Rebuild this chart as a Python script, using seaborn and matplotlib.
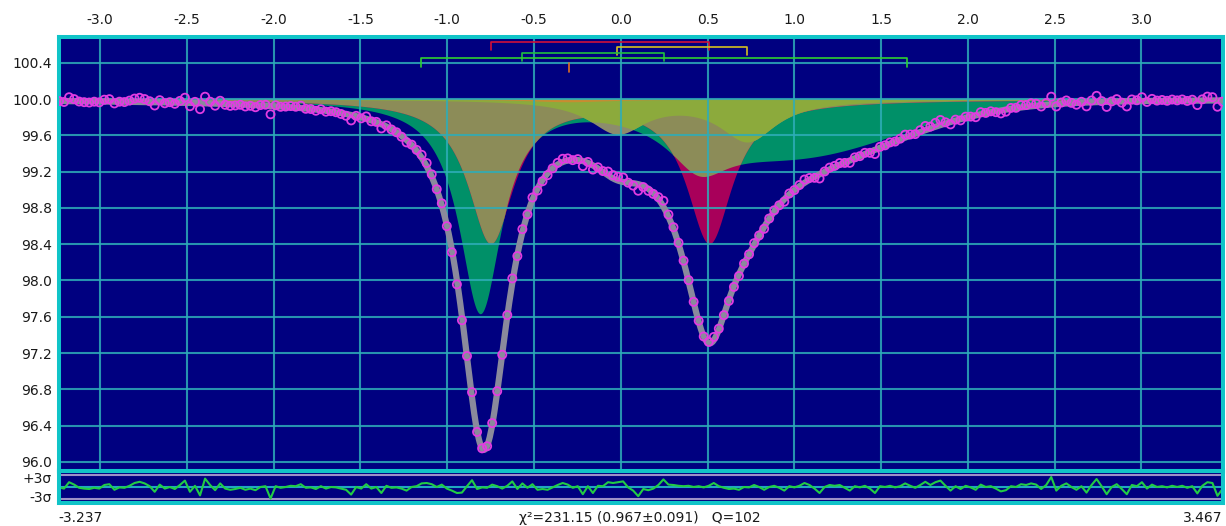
import numpy as np
import pandas as pd
import matplotlib
matplotlib.use('Agg')
import matplotlib.pyplot as plt
import seaborn as sns

sns.set_theme(style='white')
plt.rcParams['font.family'] = ['DejaVu Sans']
plt.rcParams['axes.unicode_minus'] = False

# velocity window of the spectrum (mm/s) and number of channels
V_MIN, V_MAX = -3.237, 3.467
N_CH = 232
SIGMA = 0.033         # statistical error of one channel (%)

# --- subspectra: line position, depth (%), half width ---
red_pos, red_depth, red_hw = [-0.75, 0.51], [1.57, 1.57], [0.16, 0.16]
yellow_pos, yellow_depth, yellow_hw = [-0.02, 0.73], [0.36, 0.45], [0.20, 0.20]
green_pos, green_depth, green_hw = [-0.81, 0.45], [2.35, 0.42], [0.15, 0.20]
green_wing = [1.00, 0.60, 0.60]   # broad tail of the green site: centre, depth, sigma
orange_pos, orange_depth, orange_hw = [-0.30], [0.03], [0.30]

# markers drawn above the spectrum (doublet brackets + singlet tick)
bracket_left = [-0.75, -0.02, -0.57, -1.15]
bracket_right = [0.51, 0.73, 0.25, 1.65]
bracket_height = [100.628, 100.570, 100.510, 100.448]
bracket_colors = ['#d0103a', '#d4c020', '#20c040', '#30d030']
singlet_pos = [-0.30]

# residuals (data - fit) in units of sigma, one per channel
residuals = [
    0.0, -0.3, 1.3, 0.7, -0.1, -0.3, -0.4, -0.1, -0.3, 0.6,
    0.8, -0.6, 0.0, -0.1, 0.4, 1.1, 1.4, 1.0, 0.3, -1.1,
    0.7, -0.3, 0.1, -0.4, 0.6, 1.7, -1.1, 0.4, -2.0, 2.2,
    0.6, -0.7, 1.0, -0.3, -0.6, -0.4, -0.1, -0.6, -0.3, -0.7,
    0.1, 0.3, -2.8, 0.3, -0.1, 0.1, 0.4, 0.3, 0.8, -0.1,
    0.0, -0.4, 0.3, -0.3, 0.1, 0.0, -0.3, -0.6, -1.8, 0.1,
    -0.3, 0.8, -0.3, 0.1, -1.4, 0.4, -0.1, 0.0, -0.3, -0.8,
    0.1, 0.3, 1.0, 1.1, 0.8, 0.1, 0.7, -0.3, -0.8, -1.4,
    -1.3, 0.3, 1.8, -0.4, 0.0, -0.1, 0.7, 0.3, -0.3, 0.4,
    1.5, -0.4, 1.0, -0.1, 0.8, -0.6, -0.4, -0.6, 0.0, 0.6,
    1.1, 0.7, -0.1, 0.3, -1.7, 0.3, -1.4, 0.4, 0.3, 1.3,
    1.1, 1.3, 1.5, 0.0, -0.8, -2.2, -0.4, -0.7, -0.3, 0.6,
    2.0, 0.7, 0.6, 0.4, 0.3, 0.4, 0.1, 0.3, 0.0, 0.4,
    1.1, 0.3, -0.1, -0.4, -0.3, -0.6, 0.1, 0.0, 0.6, 0.1,
    -0.6, 0.1, 0.4, -0.1, -0.8, 0.3, 0.0, 0.4, 1.1, 0.6,
    -0.3, -1.4, 0.1, 0.6, 0.4, 0.6, -0.1, -0.8, 0.3, 0.0,
    0.4, -0.3, -1.4, 0.3, 0.1, 0.4, 0.0, 0.3, 1.0, 0.4,
    -0.1, 0.6, 1.4, 0.6, 1.3, 1.7, 0.4, -0.8, 0.3, -0.4,
    0.4, 0.0, -0.6, 0.7, 0.1, 0.3, -0.3, -1.0, -0.7, 0.3,
    0.1, 0.8, 0.6, 1.0, 0.7, -0.4, 0.6, 2.6, -0.8, 0.4,
    1.0, 0.1, -0.6, 0.3, -1.3, 0.6, 2.1, 0.3, -1.7, 0.1,
    0.8, -0.4, -1.7, 0.6, 0.3, 1.3, -0.3, 0.7, 0.1, 0.3,
    0.0, 0.4, 0.1, 0.4, -0.1, 0.3, -1.5, 0.4, 1.3, 1.1,
    -2.1, -0.4,
]

# colours of the program
NAVY = '#000080'
FRAME = '#10c4c8'
GRID = '#2eadb8'
TXT = '#1a1a1a'


def lorentz(v, pos, depth, hw):
    out = np.zeros_like(v)
    for p, d, w in zip(pos, depth, hw):
        out += d / (1 + ((v - p) / w) ** 2)
    return out


def components(v):
    red = lorentz(v, red_pos, red_depth, red_hw)
    yel = lorentz(v, yellow_pos, yellow_depth, yellow_hw)
    grn = lorentz(v, green_pos, green_depth, green_hw)
    grn += green_wing[1] * np.exp(-(v - green_wing[0]) ** 2 / (2 * green_wing[2] ** 2))
    org = lorentz(v, orange_pos, orange_depth, orange_hw)
    return red, yel, grn, org


# channels and measured points
vel = np.linspace(V_MIN, V_MAX, N_CH)
r, y, g, o = components(vel)
fit_ch = 100 - (r + y + g + o)
df = pd.DataFrame({'v': vel, 'counts': fit_ch + np.array(residuals) * SIGMA,
                   'res': residuals})

# smooth curves for the fit and the subspectra
vf = np.linspace(V_MIN, V_MAX, 1500)
rf, yf, gf, of = components(vf)
fit = pd.DataFrame({'v': vf, 'fit': 100 - (rf + yf + gf + of)})

fig = plt.figure(figsize=(12.26, 5.26), dpi=100)
ax = fig.add_axes([59 / 1226, 55 / 526, 1163.5 / 1226, 434.5 / 526])
axr = fig.add_axes([59 / 1226, 23 / 526, 1163.5 / 1226, 32 / 526])

# --- main spectrum ---
ax.set_facecolor(NAVY)
ax.fill_between(vf, 100, 100 - gf, color='#009068', lw=0, zorder=1)
ax.fill_between(vf, 100, 100 - yf, color='#8c8c6c', lw=0, zorder=1)
ax.fill_between(vf, 100, 100 - rf, color='#a8005a', lw=0, zorder=1)
ax.fill_between(vf, 100, 100 - np.minimum(rf, gf), color='#8c8c58', lw=0, zorder=1)
ax.fill_between(vf, 100, 100 - np.minimum(yf, gf), color='#8caa3c', lw=0, zorder=1)
ax.fill_between(vf, 100, 100 - of, color='#c88c30', lw=0, zorder=1)

xticks = np.arange(-3.0, 3.01, 0.5)
yticks = np.arange(96.0, 100.41, 0.4)
for xv in xticks:
    ax.axvline(xv, color=GRID, lw=1.5, zorder=2, alpha=0.85)
for yv in yticks:
    ax.axhline(yv, color=GRID, lw=1.5, zorder=2, alpha=0.85)

sns.lineplot(data=fit, x='v', y='fit', ax=ax, color='#8a8a9c', lw=4.5, zorder=3)
sns.scatterplot(data=df, x='v', y='counts', ax=ax, marker='o', s=34,
                facecolors='none', edgecolor='#e23ce2', linewidth=1.3, zorder=4)

# doublet brackets and singlet marker
tick_len = 0.09
for left, right, h, c in zip(bracket_left, bracket_right, bracket_height, bracket_colors):
    ax.plot([left, left, right, right], [h - tick_len, h, h, h - tick_len],
            color=c, lw=1.2, zorder=5)
for sp in singlet_pos:
    ax.plot([sp, sp], [100.298, 100.397], color='#e07020', lw=1.2, zorder=5)

ax.set_xlim(V_MIN, V_MAX)
ax.set_ylim(95.90, 100.689)
ax.xaxis.tick_top()
ax.set_xticks(xticks)
ax.set_xticklabels([f'{t:.1f}' for t in xticks])
ax.set_yticks(yticks)
ax.set_yticklabels([f'{t:.1f}' for t in yticks])
ax.tick_params(length=0, labelsize=10, labelcolor=TXT)
ax.tick_params(axis='x', pad=7)
ax.tick_params(axis='y', pad=5)
ax.set_xlabel('')
ax.set_ylabel('')
ax.grid(False)
for s in ax.spines.values():
    s.set_color(FRAME)
    s.set_linewidth(2.9)

# --- residual strip ---
axr.set_facecolor(NAVY)
axr.axhline(3, color='#9c90c8', lw=1.5)
axr.axhline(-3, color='#9c90c8', lw=1.5)
axr.axhline(0, color='#20a8c0', lw=1.5)
sns.lineplot(data=df, x='v', y='res', ax=axr, color='#22cc44', lw=1.5)
axr.set_xlim(V_MIN, V_MAX)
axr.set_ylim(-3.9, 4.1)
axr.set_xticks([])
axr.set_yticks([])
axr.set_xlabel('')
axr.set_ylabel('')
for s in axr.spines.values():
    s.set_color(FRAME)
    s.set_linewidth(2.9)

fig.text(52 / 1226, 1 - 479 / 526, '+3σ', ha='right', va='center', fontsize=10, color=TXT)
fig.text(52 / 1226, 1 - 498 / 526, '-3σ', ha='right', va='center', fontsize=10, color=TXT)
fig.text(58 / 1226, 1 - 518 / 526, f'{V_MIN:.3f}', ha='left', va='center', fontsize=10, color=TXT)
fig.text(1222 / 1226, 1 - 518 / 526, f'{V_MAX:.3f}', ha='right', va='center', fontsize=10, color=TXT)
fig.text(640 / 1226, 1 - 518 / 526, 'χ²=231.15 (0.967±0.091)   Q=102',
         ha='center', va='center', fontsize=10, color=TXT)

fig.savefig('out.png', dpi=100, facecolor='white')
